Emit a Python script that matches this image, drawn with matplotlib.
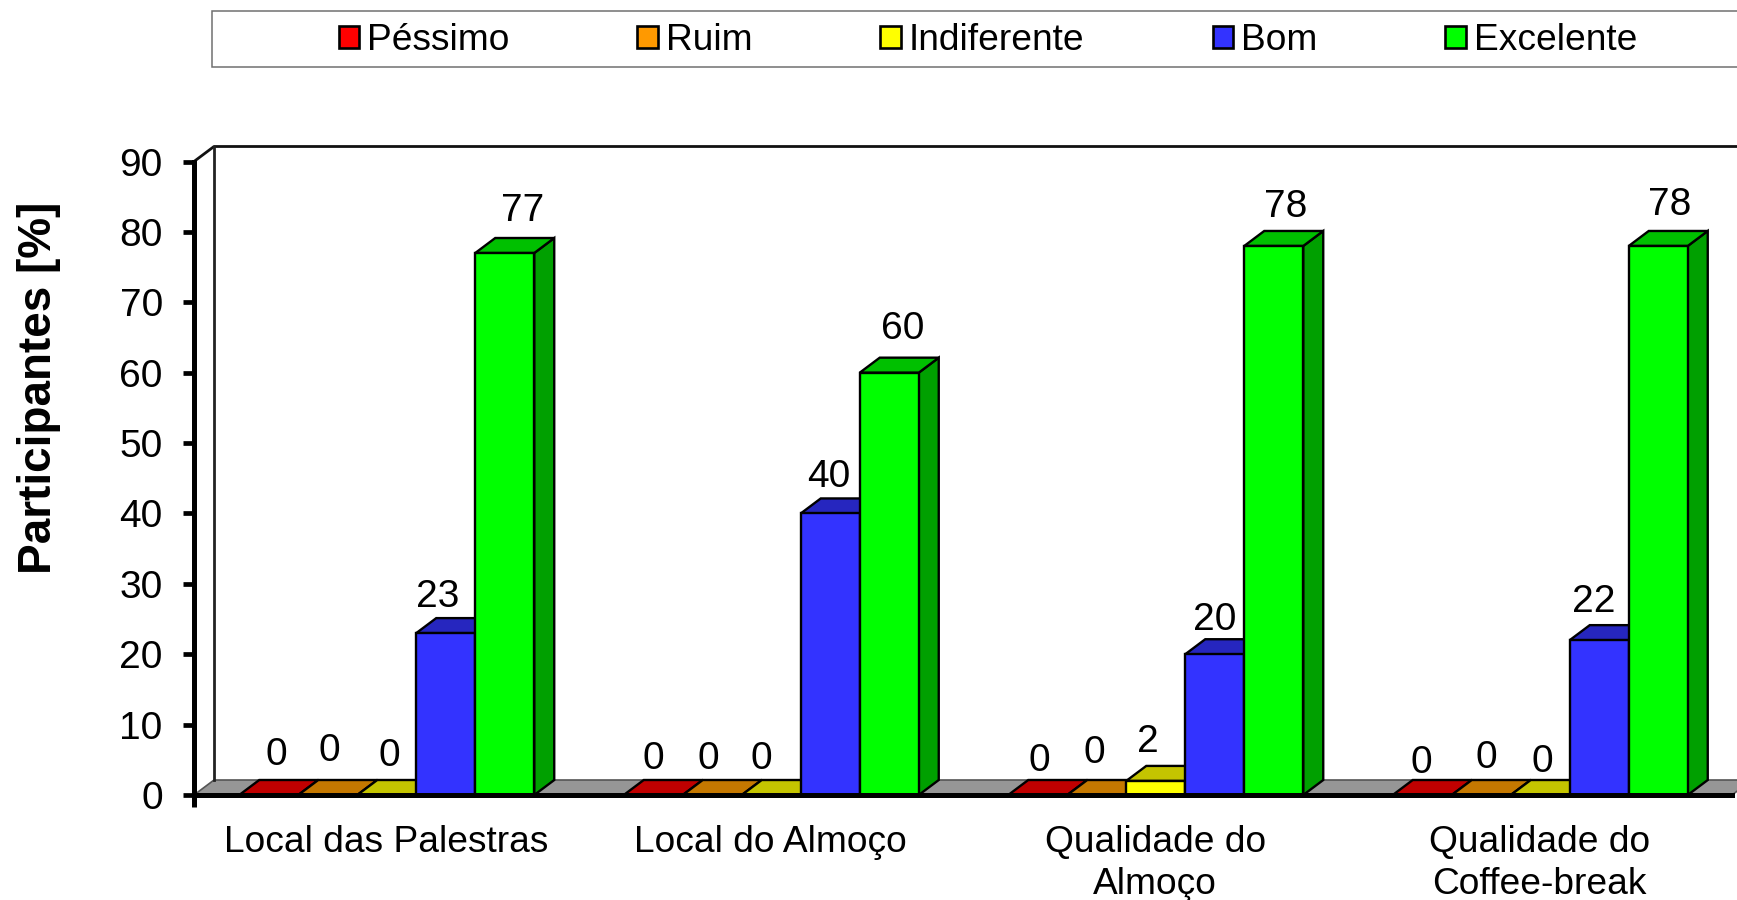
import matplotlib
matplotlib.use("Agg")
import matplotlib.pyplot as plt
from matplotlib.patches import Polygon, Rectangle

plt.rcParams['font.family'] = ['Liberation Sans', 'DejaVu Sans']

categories = ["Local das Palestras", "Local do Almoço", "Qualidade do\nAlmoço", "Qualidade do\nCoffee-break"]
series_names = ["Péssimo", "Ruim", "Indiferente", "Bom", "Excelente"]
pessimo = [0, 0, 0, 0]
ruim = [0, 0, 0, 0]
indiferente = [0, 0, 2, 0]
bom = [23, 40, 20, 22]
excelente = [77, 60, 78, 78]
y_ticks = list(range(0, 100, 10))

front_colors = ["#FF0000", "#FF9900", "#FFFF00", "#3333FF", "#00FF00"]
top_colors = ["#C00000", "#C47800", "#C4C400", "#2626BF", "#00C000"]
side_colors = ["#A00000", "#A06000", "#A0A000", "#1F1F99", "#00A000"]

# hand-placed data labels: pixel offsets from the top centre of each front face
label_dx = [[8, 2, 3, -8, 18], [0, -4, -10, -2, 13], [2, -2, -8, 0, 12], [-1, 5, 2, -5, 11]]
label_dy = [[40, 44, 39, 36, 42], [36, 36, 36, 36, 44], [34, 42, 39, 34, 39], [32, 37, 33, 38, 41]]

W, H = 1737, 900
FS = 26.7
FS_NUM = 28
fig = plt.figure(figsize=(W / 100, H / 100), dpi=100, facecolor="white")
x0, x1, y0, y1 = 194, 1732, 795, 161.5
ax = fig.add_axes([x0 / W, 1 - y0 / H, (x1 - x0) / W, (y0 - y1) / H])
ax.set_facecolor("none")
ax.set_xlim(0, 4)
ax.set_ylim(0, 90)

px_x = 4 / (x1 - x0)
px_y = 90 / (y0 - y1)
depth_x = 20 * px_x
depth_y = 15 * px_y
bar_w = 59 * px_x
shift = 0.5 * px_x

# floor and back wall
ax.add_patch(Polygon([(0, 0), (4, 0), (4 + depth_x, depth_y), (depth_x, depth_y)],
                     closed=True, facecolor="#969696", edgecolor="#555555", lw=1.2, clip_on=False, zorder=0.5))
ax.plot([0, depth_x, 4.1], [90, 90 + depth_y, 90 + depth_y], color="#111111", lw=2.0, clip_on=False, zorder=0.6)
ax.plot([depth_x, depth_x], [depth_y, 90 + depth_y], color="#222222", lw=2.0, clip_on=False, zorder=0.6)

all_series = [pessimo, ruim, indiferente, bom, excelente]
z = 1.0
for g in range(len(categories)):
    for s, values in enumerate(all_series):
        v = values[g]
        x = g + 0.5 + (s - 2) * bar_w + shift
        l, r = x - bar_w / 2, x + bar_w / 2
        ax.add_patch(Polygon([(r, 0), (r + depth_x, depth_y), (r + depth_x, v + depth_y), (r, v)], closed=True,
                             facecolor=side_colors[s], edgecolor="black", lw=1.7, clip_on=False, zorder=z))
        ax.add_patch(Polygon([(l, v), (r, v), (r + depth_x, v + depth_y), (l + depth_x, v + depth_y)], closed=True,
                             facecolor=top_colors[s], edgecolor="black", lw=1.7, clip_on=False, zorder=z))
        ax.bar([x], [v], width=bar_w, color=front_colors[s], edgecolor="black", lw=1.7, zorder=z + 0.001, clip_on=False)
        z += 0.002

for g in range(len(categories)):
    for s, values in enumerate(all_series):
        x = g + 0.5 + (s - 2) * bar_w + shift
        ax.annotate(str(values[g]), xy=(x, values[g]), xytext=(label_dx[g][s], label_dy[g][s]),
                    textcoords="offset pixels", ha="center", va="center", fontsize=FS_NUM, color="black",
                    annotation_clip=False, zorder=5)

# axes
for name in ("top", "right"):
    ax.spines[name].set_visible(False)
for name in ("left", "bottom"):
    ax.spines[name].set_linewidth(3.6)
    ax.spines[name].set_color("black")
ax.set_yticks(y_ticks)
ax.tick_params(axis="y", length=8, width=3.4, pad=14.5, labelsize=FS_NUM, color="black")
ax.set_xticks([i + 0.5 for i in range(len(categories))])
ax.set_xticklabels(categories, fontsize=FS, linespacing=1.27)
ax.tick_params(axis="x", which="major", length=0, pad=21.5)
ax.set_xticks([0], minor=True)
ax.tick_params(axis="x", which="minor", length=8.5, width=3.6, color="black")

fig.text(39.5 / W, 1 - 388 / H, "Participantes [%]", rotation=90, ha="center", va="center",
         fontsize=33, fontweight="bold", color="black")

# legend
fig.add_artist(Rectangle((211.6 / W, 1 - 66.5 / H), 1600 / W, 56 / H, transform=fig.transFigure,
                         facecolor="white", edgecolor="#707070", lw=1.1))
handles = [Rectangle((0, 0), 1, 1, facecolor=c, edgecolor="black", lw=1.9) for c in front_colors]
leg = fig.legend(handles, series_names, ncol=5, loc="center left", bbox_to_anchor=(338.5 / W, 1 - 40.5 / H),
                 frameon=False, fontsize=FS, borderpad=0, borderaxespad=0, handlelength=0.56, handleheight=0.54,
                 handletextpad=0.2, columnspacing=3.46)
leg.set_zorder(10)

fig.savefig("out.png", dpi=100, facecolor="white")
